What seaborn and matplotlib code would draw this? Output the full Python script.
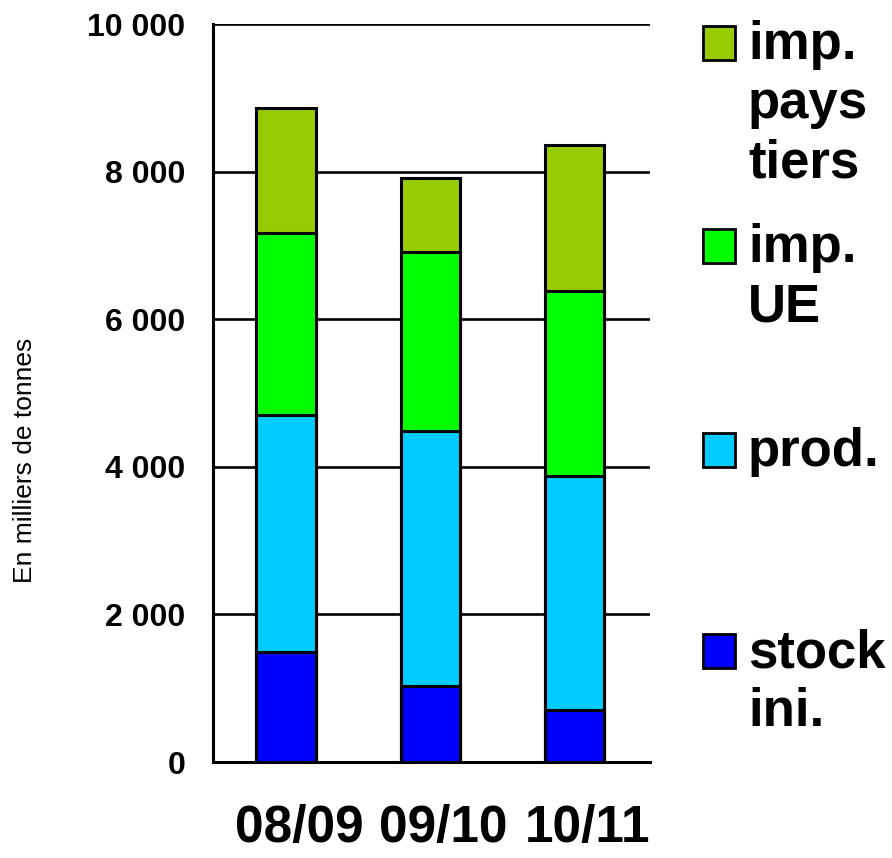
import numpy as np
import pandas as pd
import matplotlib
matplotlib.use("Agg")
import matplotlib.pyplot as plt
import matplotlib.transforms as mtransforms
from matplotlib.patches import Rectangle
import seaborn as sns

# donnees (milliers de tonnes)
campagnes = ["08/09", "09/10", "10/11"]
series = ["stock\nini.", "prod.", "imp.\nUE", "imp.\npays\ntiers"]
stock_ini = [1485, 1030, 700]
prod = [3220, 3450, 3175]
imp_ue = [2465, 2430, 2510]
imp_tiers = [1690, 1000, 1980]
couleurs = ["#0000FF", "#00CCFF", "#00FF00", "#99CC00"]
yticks = [0, 2000, 4000, 6000, 8000, 10000]
ytick_labels = ["0", "2 000", "4 000", "6 000", "8 000", "10 000"]

sns.set_style("white")
plt.rcParams["font.family"] = ["Liberation Sans", "DejaVu Sans"]
plt.rcParams["text.color"] = "black"
plt.rcParams["xtick.color"] = "black"
plt.rcParams["ytick.color"] = "black"

W, H = 892, 858
fig = plt.figure(figsize=(W / 100, H / 100), dpi=100)
ax = fig.add_axes([213 / W, 96 / H, 437 / W, 738 / H])

valeurs = np.array([stock_ini, prod, imp_ue, imp_tiers])
cumul = valeurs.cumsum(axis=0)

# barres empilees : on trace les cumuls du haut vers le bas
for i in range(len(series) - 1, -1, -1):
    df = pd.DataFrame({"campagne": campagnes, "total": cumul[i]})
    sns.barplot(data=df, x="campagne", y="total", color=couleurs[i],
                width=0.41, edgecolor="black", linewidth=2.2, saturation=1,
                errorbar=None, ax=ax, zorder=3)

ax.set_xlim(-0.505, 2.52)
ax.set_ylim(0, 10000)
ax.set_yticks(yticks, ytick_labels)
ax.set_axisbelow(True)
ax.yaxis.grid(True, color="black", linewidth=1.9)
ax.xaxis.grid(False)
ax.set_xlabel("")
ax.set_ylabel("")

for side in ["top", "right"]:
    ax.spines[side].set_visible(False)
for side in ["left", "bottom"]:
    ax.spines[side].set_color("black")
    ax.spines[side].set_linewidth(2.2)

ax.tick_params(axis="y", labelsize=23, pad=20, length=0, labelcolor="black")
ax.tick_params(axis="x", labelsize=37, pad=30, length=0, labelcolor="black")
for lab in ax.get_yticklabels() + ax.get_xticklabels():
    lab.set_fontweight("bold")

decal = mtransforms.ScaledTranslation(13 / 100, 0, fig.dpi_scale_trans)
for lab in ax.get_xticklabels():
    lab.set_transform(lab.get_transform() + decal)

fig.text(25 / W, 1 - 460 / H, "En milliers de tonnes", rotation=90,
         ha="center", va="center", fontsize=19, color="black")

# legende construite a la main (carre aligne sur la premiere ligne)
lignes_base = [60, 263, 467, 668]
for k, i in enumerate(range(len(series) - 1, -1, -1)):
    yb = 1 - lignes_base[k] / H
    fig.add_artist(Rectangle((703 / W, yb), 32 / W, 34 / H,
                             transform=fig.transFigure,
                             facecolor=couleurs[i], edgecolor="black",
                             linewidth=2))
    fig.text(748 / W, 1 - (lignes_base[k] - 40) / H, series[i],
             ha="left", va="top", fontsize=38, fontweight="bold",
             linespacing=1.24, color="black")

fig.savefig("out.png", dpi=100)
